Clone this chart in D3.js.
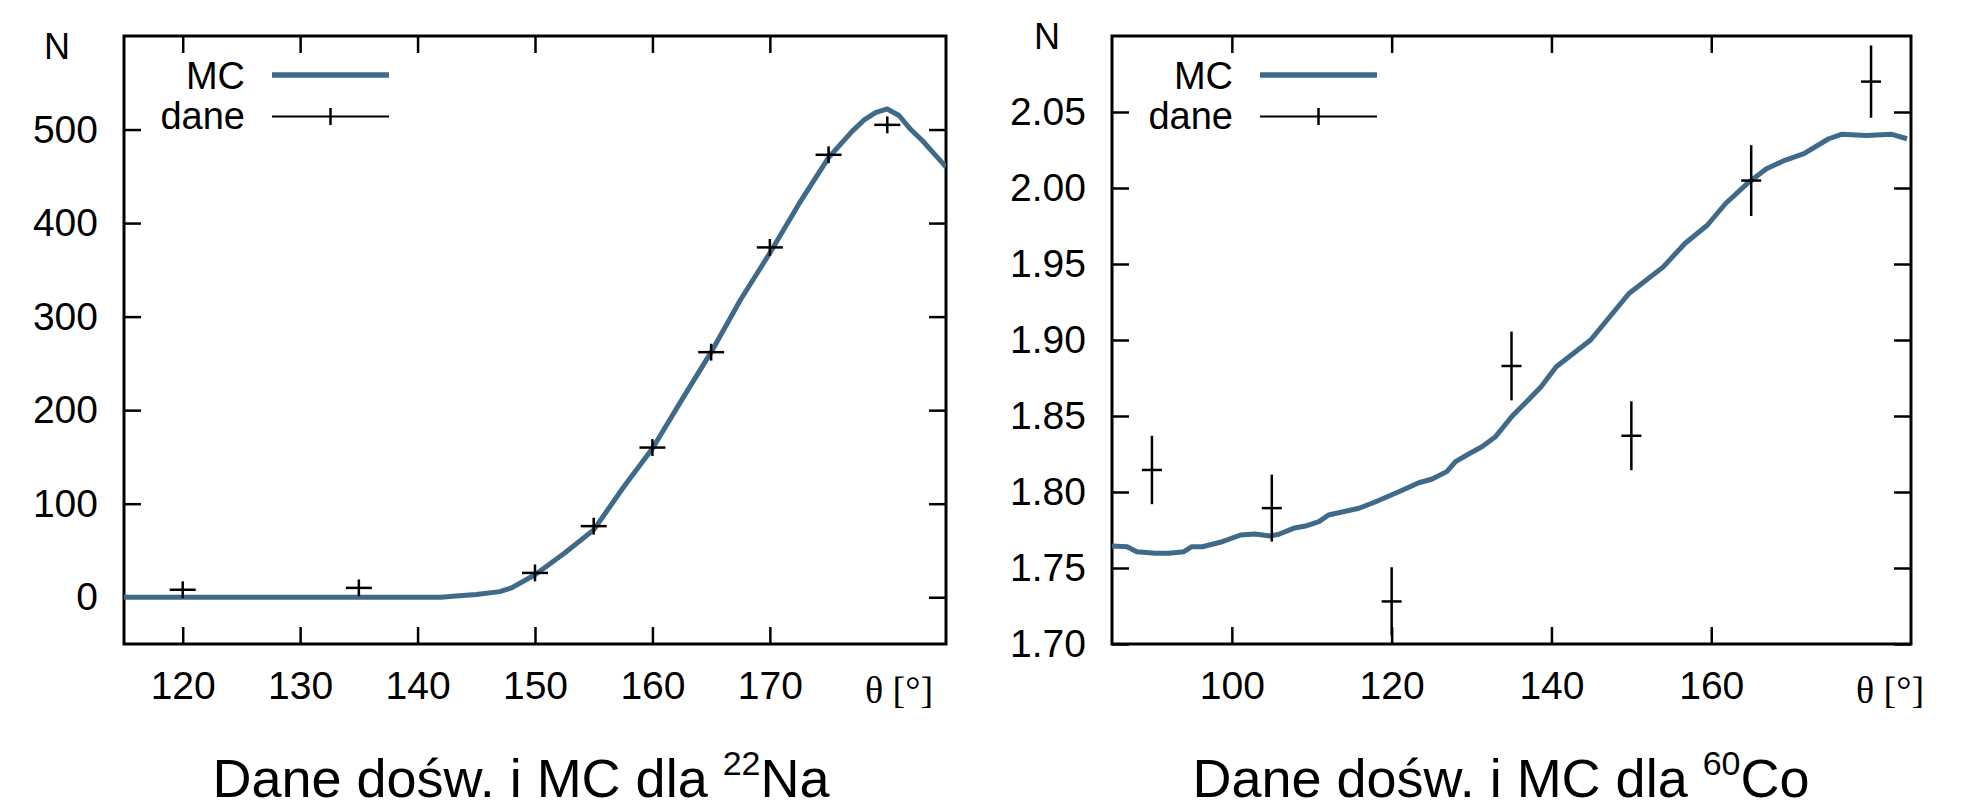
<!DOCTYPE html>
<html>
<head>
<meta charset="utf-8">
<script src="https://cdn.jsdelivr.net/npm/d3@7"></script>
<style>
  body { margin: 0; background: #fff; }
  svg { display: block; }
  text { font-family: "Liberation Sans", Arial, sans-serif; fill: #000; }
</style>
</head>
<body>
<svg id="chart" width="1973" height="808"></svg>
<script>
// 22Na: Monte Carlo curve
var naMcTheta = [115, 120, 125, 130, 135, 140, 142, 143, 145, 147, 148, 150, 152.5, 155, 157.5, 160, 162.5, 165, 167.5, 170, 172.5, 175, 177, 178, 179, 180, 181, 182, 183, 184, 185];
var naMcN = [0, 0, 0, 0, 0, 0, 0, 1, 3, 6, 10, 24, 47, 72, 117, 159, 211, 262, 318, 368, 421, 470, 498, 510, 518, 522, 515, 500, 488, 474, 460];
// 22Na: measured
var naDataTheta = [120, 135, 150, 155, 160, 165, 170, 175, 180];
var naDataN = [8, 10, 26, 76, 160, 262, 374, 473, 505];
var naDataErr = [9, 9, 9, 9, 9, 9, 9, 9, 9];

// 60Co: Monte Carlo curve
var coMcTheta = [85, 86.9, 88.1, 90.4, 92.1, 94, 95, 96.3, 98.8, 101.1, 102.9, 104.8, 105.9, 107.7, 109.2, 110.9, 112.1, 115.9, 118, 120.9, 123.4, 125, 126.9, 128, 129.8, 131.3, 133, 135.1, 137.1, 138.7, 140.6, 144.9, 147.3, 149.7, 151.6, 154, 156.7, 159.5, 161.8, 164.5, 166.9, 169.2, 171.6, 174.7, 176.3, 179.4, 182.6, 184.5];
var coMcN = [1.7645, 1.764, 1.7607, 1.7597, 1.7597, 1.7607, 1.764, 1.764, 1.7673, 1.7717, 1.7724, 1.7711, 1.7722, 1.7761, 1.7776, 1.7805, 1.7849, 1.7893, 1.7936, 1.8002, 1.8061, 1.8084, 1.8134, 1.82, 1.8255, 1.8298, 1.8364, 1.85, 1.8605, 1.8693, 1.8824, 1.90, 1.9153, 1.9306, 1.9383, 1.9481, 1.9635, 1.9755, 1.9898, 2.0029, 2.0127, 2.0182, 2.0226, 2.0324, 2.0353, 2.0346, 2.0353, 2.0324];
// 60Co: measured
var coDataTheta = [90, 105, 120, 135, 150, 165, 180];
var coDataN = [1.8145, 1.7894, 1.728, 1.8829, 1.837, 2.0049, 2.070];
var coDataErr = [0.0225, 0.022, 0.0225, 0.0226, 0.0227, 0.0233, 0.0238];

// ticks and labels
var naXTicks = [120, 130, 140, 150, 160, 170];
var naYTicks = [0, 100, 200, 300, 400, 500];
var coXTicks = [100, 120, 140, 160];
var coYTicks = [1.70, 1.75, 1.80, 1.85, 1.90, 1.95, 2.00, 2.05];
var legendLabels = ['MC', 'dane'];

var svg = d3.select('#chart');
var mcColor = '#3f6a8a';

function panel(opt) {
  var x = d3.scaleLinear().domain(opt.xDomain).range([opt.left, opt.right]);
  var y = d3.scaleLinear().domain(opt.yDomain).range([opt.bottom, opt.top]);
  var g = svg.append('g');
  var tick = 17;

  g.append('clipPath').attr('id', opt.id + '-clip')
    .append('rect')
      .attr('x', opt.left).attr('y', opt.top)
      .attr('width', opt.right - opt.left).attr('height', opt.bottom - opt.top);

  // axes (ticks pointing inward)
  var bottomAxis = d3.axisBottom(x).tickValues(opt.xTicks).tickSize(-tick).tickPadding(27);
  var leftAxis = d3.axisLeft(y).tickValues(opt.yTicks).tickSize(-tick).tickPadding(26).tickFormat(opt.yFormat);
  var topAxis = d3.axisTop(x).tickValues(opt.xTicks).tickSize(-tick).tickFormat('');
  var rightAxis = d3.axisRight(y).tickValues(opt.yTicks).tickSize(-tick).tickFormat('');

  [[bottomAxis, 'translate(0,' + opt.bottom + ')'],
   [leftAxis, 'translate(' + opt.left + ',0)'],
   [topAxis, 'translate(0,' + opt.top + ')'],
   [rightAxis, 'translate(' + opt.right + ',0)']].forEach(function(a) {
    var ax = g.append('g').attr('transform', a[1]).call(a[0]);
    ax.select('.domain').remove();
    ax.selectAll('line').attr('stroke', '#000').attr('stroke-width', 2.5);
    ax.selectAll('text')
      .style('font-family', '"Liberation Sans", Arial, sans-serif')
      .style('font-size', '39px')
      .attr('fill', '#000');
  });

  // frame
  g.append('rect')
    .attr('x', opt.left).attr('y', opt.top)
    .attr('width', opt.right - opt.left).attr('height', opt.bottom - opt.top)
    .attr('fill', 'none').attr('stroke', '#000').attr('stroke-width', 3);

  // MC curve
  var line = d3.line()
    .x(function(d, i) { return x(opt.mcX[i]); })
    .y(function(d) { return y(d); });
  g.append('path')
    .attr('clip-path', 'url(#' + opt.id + '-clip)')
    .attr('d', line(opt.mcY))
    .attr('fill', 'none')
    .attr('stroke', mcColor)
    .attr('stroke-width', 5)
    .attr('stroke-linejoin', 'round');

  // measured points with error bars
  var pts = g.append('g').attr('clip-path', 'url(#' + opt.id + '-clip)')
    .attr('stroke', '#000').attr('stroke-width', 2.5);
  opt.dX.forEach(function(t, i) {
    var cx = x(t), cy = y(opt.dY[i]);
    pts.append('line')
      .attr('x1', cx).attr('x2', cx)
      .attr('y1', y(opt.dY[i] - opt.dErr[i])).attr('y2', y(opt.dY[i] + opt.dErr[i]));
    pts.append('line')
      .attr('x1', cx - opt.arm).attr('x2', cx + opt.arm)
      .attr('y1', cy).attr('y2', cy);
  });

  // legend
  var lx = opt.legendX;
  g.append('text').attr('x', lx).attr('y', 89)
    .attr('text-anchor', 'end').style('font-size', '38px').text(legendLabels[0]);
  g.append('line').attr('x1', lx + 27).attr('x2', lx + 144).attr('y1', 75).attr('y2', 75)
    .attr('stroke', mcColor).attr('stroke-width', 5.5);
  g.append('text').attr('x', lx).attr('y', 129)
    .attr('text-anchor', 'end').style('font-size', '38px').text(legendLabels[1]);
  g.append('line').attr('x1', lx + 27).attr('x2', lx + 144).attr('y1', 116.5).attr('y2', 116.5)
    .attr('stroke', '#000').attr('stroke-width', 2);
  g.append('line').attr('x1', lx + 85.5).attr('x2', lx + 85.5).attr('y1', 108).attr('y2', 125)
    .attr('stroke', '#000').attr('stroke-width', 2.5);

  // axis labels
  g.append('text').attr('x', opt.nX).attr('y', opt.nY)
    .attr('text-anchor', 'middle').style('font-size', '36px').text('N');
  g.append('text').attr('x', opt.thetaX).attr('y', 703)
    .attr('text-anchor', 'middle')
    .style('font-family', '"Liberation Serif", "Times New Roman", serif')
    .style('font-size', '38px')
    .text('\u03b8 [\u00b0]');

  // title
  var title = g.append('text').attr('x', opt.titleX).attr('y', 797)
    .attr('text-anchor', 'middle').style('font-size', '54px').attr('fill', '#222');
  title.append('tspan').text('Dane do\u015bw. i MC dla ');
  title.append('tspan').attr('dy', -22).style('font-size', '34px').text(opt.isotopeMass);
  title.append('tspan').attr('dy', 22).text(opt.isotope);
}

panel({
  id: 'na',
  left: 124, right: 946, top: 36, bottom: 644,
  xDomain: [115, 185], yDomain: [-50, 600],
  xTicks: naXTicks, yTicks: naYTicks,
  yFormat: d3.format('d'),
  mcX: naMcTheta, mcY: naMcN,
  dX: naDataTheta, dY: naDataN, dErr: naDataErr, arm: 13,
  legendX: 245,
  nX: 57, nY: 59,
  thetaX: 899,
  titleX: 521, isotopeMass: '22', isotope: 'Na'
});

panel({
  id: 'co',
  left: 1112, right: 1911, top: 36, bottom: 644,
  xDomain: [85, 185], yDomain: [1.70, 2.10],
  xTicks: coXTicks, yTicks: coYTicks,
  yFormat: d3.format('.2f'),
  mcX: coMcTheta, mcY: coMcN,
  dX: coDataTheta, dY: coDataN, dErr: coDataErr, arm: 10,
  legendX: 1233,
  nX: 1047, nY: 49,
  thetaX: 1890,
  titleX: 1501, isotopeMass: '60', isotope: 'Co'
});
</script>
</body>
</html>
